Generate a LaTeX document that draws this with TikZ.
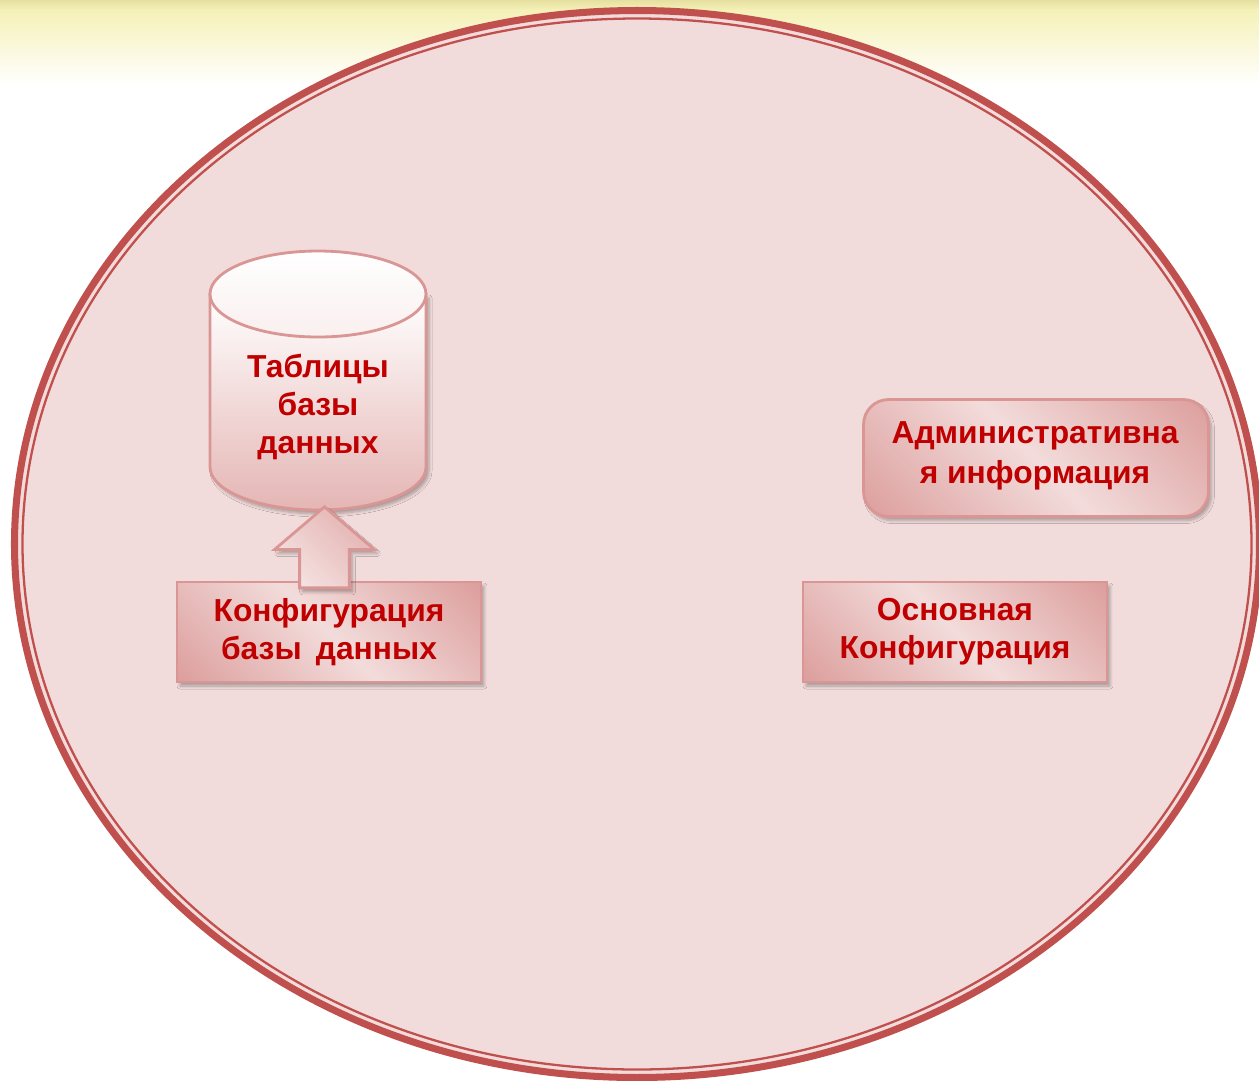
\documentclass[tikz,border=0pt]{standalone}
\usepackage{fontspec}
\setmainfont{Liberation Sans}
\usetikzlibrary{positioning,shapes.arrows,shadows.blur}
\definecolor{ringred}{HTML}{C0504D}
\definecolor{softpink}{HTML}{F2DCDB}
\definecolor{edgepink}{HTML}{D99694}
\definecolor{labelred}{HTML}{C00000}
\definecolor{bandyellow}{HTML}{F5F1B8}
\definecolor{banddark}{HTML}{E6DFA0}
\pgfdeclarehorizontalshading{boxglow}{100bp}{rgb(0bp)=(0.851,0.588,0.58); rgb(10bp)=(0.851,0.588,0.58); rgb(50bp)=(0.949,0.863,0.859); rgb(90bp)=(0.851,0.588,0.58); rgb(100bp)=(0.851,0.588,0.58)}
\tikzset{
	softshadow/.style={blur shadow={shadow xshift=0.06cm, shadow yshift=-0.08cm, shadow blur steps=6, shadow blur radius=0.06cm, shadow opacity=30}},
	labeltext/.style={text=labelred, font=\fontsize{18.1}{21.8}\selectfont\bfseries, align=center},
	ringline/.style={draw=ringred},
	confbox/.style={rectangle, draw=edgepink, line width=1.6pt, shading=boxglow, shading angle=45, minimum width=6.08cm, minimum height=2cm, softshadow},
	infobox/.style={confbox, rounded corners=0.5cm, minimum width=6.9cm, minimum height=2.34cm},
	uparrow/.style={single arrow, draw=edgepink, line width=1.6pt, left color=edgepink!60!softpink, right color=softpink!80!white, shading angle=-45, single arrow head extend=0.5cm, single arrow head indent=0cm, single arrow tip angle=99, shape border rotate=90, inner sep=0.47cm, minimum height=1.62cm, minimum width=1.9cm, softshadow},
	cylbody/.style={draw=edgepink, line width=1.6pt, top color=white, bottom color=edgepink!55!softpink, softshadow},
	cyltop/.style={draw=edgepink, line width=1.6pt, top color=white, bottom color=softpink!45!white}
}

\begin{document}
\begin{tikzpicture}[x=0.02cm, y=-0.02cm]
		\useasboundingbox (0,0) rectangle (1259,1080);
		%Background
		\fill[top color=bandyellow, bottom color=white] (0,10) rectangle (1259,85);
		\fill[top color=banddark, bottom color=bandyellow] (0,0) rectangle (1259,10);
		\fill[softpink] (637,544) ellipse [x radius=624, y radius=536];
		\draw[ringline, line width=4pt] (637,544) ellipse [x radius=622.5, y radius=533.5];
		\draw[ringline, line width=1.3pt] (637,544) ellipse [x radius=614.5, y radius=525.5];

		%Cylinder
		\draw[cylbody] (210,294) -- (210,467) arc[start angle=180, end angle=0, x radius=108, y radius=43] -- (426,294) -- cycle;
		\draw[cyltop] (318,294) ellipse [x radius=108, y radius=43];

		%Nodes
		\node[labeltext] at (318,407) (tables) {Таблицы\\базы\\данных};
		\node[confbox] at (329,632) (dbconf) {};
		\node[labeltext] at (329,632) (dbconftext) {Конфигурация\\базы\, данных};
		\node[uparrow] at (324.5,558) (arrowup) {};
		\node[infobox] at (1036,458) (admin) {};
		\node[labeltext] at (1035,456) (admintext) {Административна\\[1pt]я информация};
		\node[confbox] at (955,632) (mainconf) {};
		\node[labeltext] at (955,632) (mainconftext) {Основная\\Конфигурация};
	\end{tikzpicture}
\end{document}
